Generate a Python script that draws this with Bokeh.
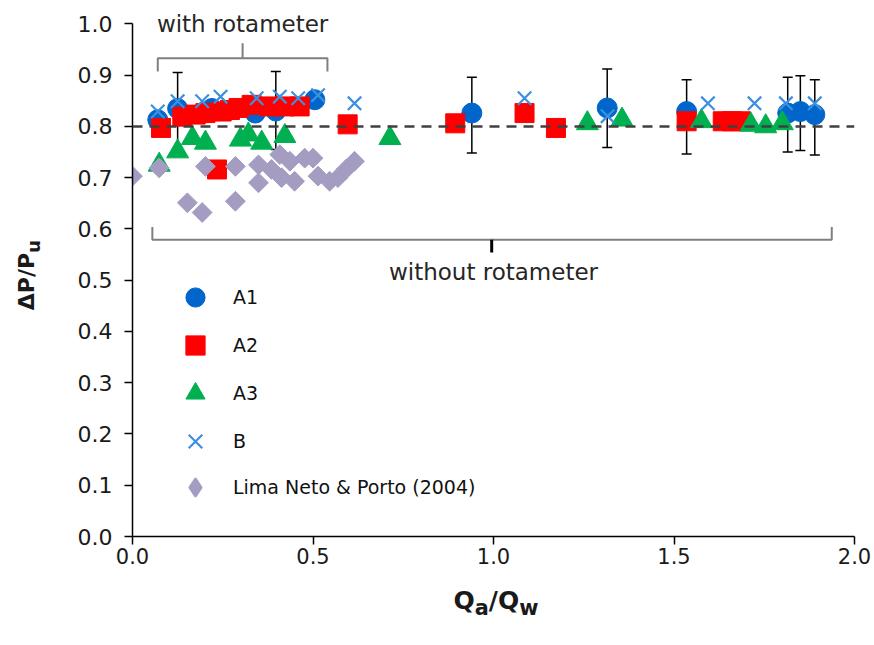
from bokeh.plotting import figure
from bokeh.layouts import column, row
from bokeh.models import (ColumnDataSource, Range1d, FixedTicker, NumeralTickFormatter,
                          Legend, LegendItem, Whisker, TeeHead, Label, Span, Div)
from bokeh.embed import file_html
from bokeh.resources import INLINE
import math

# ---------------- data ----------------
a1_x = [0.07, 0.125, 0.22, 0.34, 0.397, 0.505, 0.94, 1.315, 1.535, 1.815, 1.85, 1.89]
a1_y = [0.813, 0.835, 0.835, 0.826, 0.83, 0.852, 0.826, 0.836, 0.829, 0.826, 0.829, 0.823]

err_x = [0.125, 0.397, 0.94, 1.315, 1.535, 1.815, 1.85, 1.89]
err_lo = [0.755, 0.755, 0.748, 0.759, 0.746, 0.75, 0.753, 0.744]
err_hi = [0.905, 0.907, 0.896, 0.912, 0.891, 0.896, 0.899, 0.891]

a2_x = [0.079, 0.138, 0.175, 0.202, 0.234, 0.247, 0.27, 0.294, 0.33, 0.381, 0.422, 0.463,
        0.596, 0.894, 1.086, 1.173, 1.535, 1.635, 1.66, 1.686]
a2_y = [0.797, 0.819, 0.823, 0.826, 0.716, 0.829, 0.832, 0.836, 0.842, 0.839, 0.839, 0.839,
        0.804, 0.806, 0.826, 0.797, 0.81, 0.81, 0.81, 0.81]

a3_x = [0.074, 0.125, 0.166, 0.202, 0.299, 0.321, 0.358, 0.422, 0.713, 1.26, 1.356,
        1.576, 1.713, 1.754, 1.8]
a3_y = [0.725, 0.751, 0.777, 0.768, 0.774, 0.784, 0.768, 0.781, 0.777, 0.806, 0.813,
        0.81, 0.803, 0.8, 0.806]

b_x = [0.07, 0.125, 0.193, 0.244, 0.344, 0.408, 0.459, 0.514, 0.615, 1.086, 1.316,
       1.594, 1.723, 1.81, 1.89]
b_y = [0.829, 0.849, 0.849, 0.858, 0.855, 0.858, 0.855, 0.861, 0.845, 0.855, 0.82,
       0.845, 0.845, 0.845, 0.845]

lima_x = [0.0, 0.074, 0.152, 0.193, 0.202, 0.285, 0.285, 0.349, 0.349, 0.385, 0.408,
          0.413, 0.436, 0.449, 0.477, 0.5, 0.514, 0.546, 0.569, 0.591, 0.615]
lima_y = [0.703, 0.719, 0.651, 0.632, 0.722, 0.722, 0.654, 0.725, 0.69, 0.716, 0.745,
          0.7, 0.732, 0.693, 0.738, 0.738, 0.703, 0.693, 0.7, 0.716, 0.732]

series_labels = ["A1", "A2", "A3", "B", "Lima Neto & Porto (2004)"]
x_ticks = [0.0, 0.5, 1.0, 1.5, 2.0]
y_ticks = [0.0, 0.1, 0.2, 0.3, 0.4, 0.5, 0.6, 0.7, 0.8, 0.9, 1.0]
reference_level = 0.8
x_title = "<b>Q<sub>a</sub>/Q<sub>w</sub></b>"
y_title = "<b>&Delta;P/P<sub>u</sub></b>"

# bracket annotations (data units)
with_rot = dict(x0=0.07, x1=0.54, xc=0.305, y=0.933, y_end=0.907, y_tip=0.962)
without_rot = dict(x0=0.055, x1=1.937, xc=0.995, y=0.579, y_end=0.604, y_tip=0.554)

# ---------------- figure ----------------
FONT = "DejaVu Sans"
p = figure(x_range=Range1d(0, 2), y_range=Range1d(0, 1.03),
           frame_width=722, frame_height=528,
           min_border_left=82, min_border_right=18, min_border_top=8, min_border_bottom=40,
           output_backend="svg", toolbar_location=None, margin=0)
p.outline_line_color = None
p.xgrid.visible = False
p.ygrid.visible = False
p.background_fill_color = "white"

for ax in (p.xaxis[0], p.yaxis[0]):
    ax.axis_line_color = "black"
    ax.axis_line_width = 1.5
    ax.major_tick_line_color = "black"
    ax.major_tick_line_width = 1.5
    ax.major_tick_in = 0
    ax.major_tick_out = 8
    ax.minor_tick_line_color = None
    ax.major_label_text_font = FONT
    ax.major_label_text_color = "#1a1a1a"
    ax.formatter = NumeralTickFormatter(format="0.0")
p.xaxis[0].major_label_text_font_size = "21px"
p.yaxis[0].major_label_text_font_size = "22px"
p.xaxis[0].ticker = FixedTicker(ticks=x_ticks)
p.yaxis[0].ticker = FixedTicker(ticks=y_ticks)
p.yaxis[0].bounds = (0, 1)
p.xaxis[0].major_label_standoff = 3
p.yaxis[0].major_label_standoff = 12

# dashed reference line
p.add_layout(Span(location=reference_level, dimension="width", line_color="#404040",
                  line_width=2.5, line_dash="10 7"))

# brackets
for b in (with_rot, without_rot):
    p.line([b["x0"], b["x0"], b["x1"], b["x1"]], [b["y_end"], b["y"], b["y"], b["y_end"]],
           line_color="#7f7f7f", line_width=2)
p.line([with_rot["xc"], with_rot["xc"]], [with_rot["y"], with_rot["y_tip"]],
       line_color="#7f7f7f", line_width=2)
p.line([without_rot["xc"], without_rot["xc"]], [without_rot["y"], without_rot["y_tip"]],
       line_color="black", line_width=3)

# series
LIMA_COLOR = "#a59cc2"
r1 = p.scatter(a1_x, a1_y, marker="circle", size=20, fill_color="#0066cc", line_color="#0066cc")
r2 = p.scatter(a2_x, a2_y, marker="square", size=19, fill_color="#ff0000", line_color="#ff0000")
r3 = p.scatter(a3_x, a3_y, marker="triangle", size=22, fill_color="#00b050", line_color="#00b050")
r4 = p.scatter(b_x, b_y, marker="x", size=19, line_color="#3d8fe0", line_width=2.2)
r5 = p.scatter(lima_x, lima_y, marker="square", size=14, angle=math.pi / 4,
               fill_color=LIMA_COLOR, line_color=LIMA_COLOR)
# legend key for the Lima series: a diamond with a NaN position (never drawn in the plot)
r5_key = p.scatter(x=[float("nan")], y=[float("nan")], marker="diamond",
                   fill_color=LIMA_COLOR, line_color=LIMA_COLOR, line_width=2)

# error bars
src_err = ColumnDataSource(dict(x=err_x, lo=err_lo, hi=err_hi))
p.add_layout(Whisker(source=src_err, base="x", lower="lo", upper="hi", dimension="height",
                     line_color="black", line_width=1.5,
                     upper_head=TeeHead(size=10, line_color="black", line_width=1.5),
                     lower_head=TeeHead(size=10, line_color="black", line_width=1.5)))

# legends
leg_common = dict(orientation="vertical", padding=0, margin=0, spacing=0,
                  border_line_color=None, background_fill_alpha=0,
                  label_text_font=FONT, label_text_font_size="19px",
                  label_text_color="#111111")
legend1 = Legend(items=[LegendItem(label=lbl, renderers=[r])
                        for lbl, r in zip(series_labels[:4], [r1, r2, r3, r4])],
                 location=(39, 71), glyph_width=48, glyph_height=48, label_height=48,
                 label_standoff=14, **leg_common)
legend2 = Legend(items=[LegendItem(label=series_labels[4], renderers=[r5_key])],
                 location=(39, 26), glyph_width=48, glyph_height=46, label_height=46,
                 label_standoff=14, **leg_common)
p.add_layout(legend1, "center")
p.add_layout(legend2, "center")

# bracket texts
p.add_layout(Label(x=with_rot["xc"], y=1.0, text="with rotameter",
                   text_align="center", text_baseline="middle", text_font=FONT,
                   text_font_size="23px", text_color="#262626"))
p.add_layout(Label(x=without_rot["xc"] + 0.005, y=0.516, text="without rotameter",
                   text_align="center", text_baseline="middle", text_font=FONT,
                   text_font_size="23px", text_color="#262626"))

# axis titles (HTML so that subscripts are real text)
fig_h = 8 + 528 + 40
ydiv = Div(text=(f'<div style="position:absolute; left:29px; top:275px; '
                 f'transform:translate(-50%,-50%) rotate(-90deg); white-space:nowrap; '
                 f'font-family:\'DejaVu Sans\'; font-size:22px; color:#1a1a1a;">{y_title}</div>'),
           width=50, height=fig_h, margin=0, styles={"position": "relative"})
xdiv = Div(text=(f'<div style="position:absolute; left:496px; top:27px; '
                 f'transform:translate(-50%,-50%); white-space:nowrap; '
                 f'font-family:\'DejaVu Sans\'; font-size:25px; color:#1a1a1a;">{x_title}</div>'),
           width=872, height=60, margin=0, styles={"position": "relative"})

layout = column(row(ydiv, p, margin=0, spacing=0), xdiv, margin=0, spacing=0)
open("out.html", "w").write(file_html(layout, INLINE))
